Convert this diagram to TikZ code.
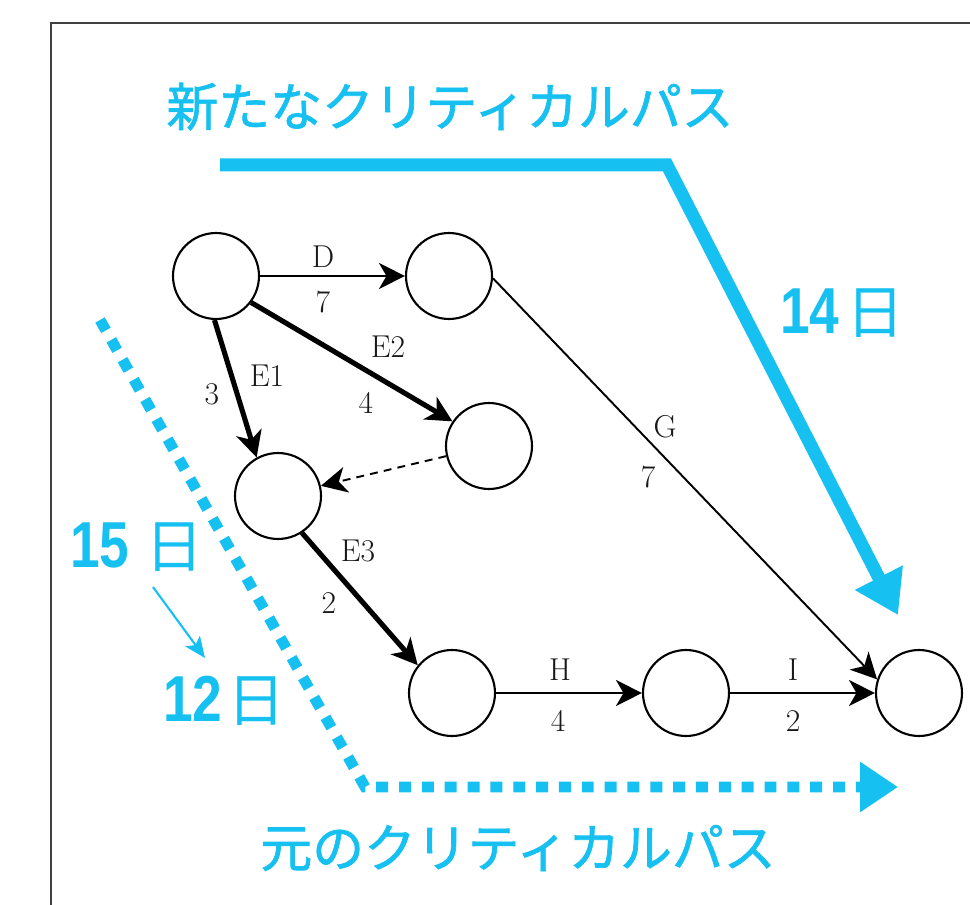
\documentclass[tikz,border=0pt]{standalone}
\usepackage{fontspec}
\usepackage{graphicx}
\newfontfamily\cjk[FakeBold=1.3]{Noto Sans CJK JP}
\newfontfamily\cjkday{Noto Sans CJK JP}
\newfontfamily\numf{Liberation Sans}
\usetikzlibrary{arrows.meta}
\definecolor{cy}{RGB}{22,192,240}
\newcommand{\bignum}[1]{\scalebox{0.82}[1]{\numf\bfseries\fontsize{37}{37}\selectfont #1}}
\newcommand{\bigday}{{\cjkday\fontsize{33}{33}\selectfont 日}}
\begin{document}
\begin{tikzpicture}[x=0.02cm,y=-0.02cm,
  ev/.style={circle,draw,line width=1.2pt,minimum size=1.72cm,inner sep=0pt},
  tipk/.style={-{Stealth[length=0.52cm,width=0.52cm,inset=0.15cm]}},
  act/.style={tipk,line width=1.1pt},
  crit/.style={tipk,line width=2.9pt},
  dum/.style={tipk,line width=1.1pt,dash pattern=on 4.5pt off 3.5pt},
  lab/.style={font=\fontsize{18}{19}\selectfont,inner sep=0pt,text=black!90},
  cjklab/.style={text=cy,inner sep=0pt,font=\cjk\fontsize{29.5}{30}\selectfont},
  daylab/.style={text=cy,inner sep=0pt,anchor=base west}]
\useasboundingbox (0,0) rectangle (970,905);
% frame
\draw[line width=1.7pt,black!75] (975,23) -- (51,23) -- (51,910);

% events
\node[ev] (A) at (216,276) {};
\node[ev] (B) at (449,276) {};
\node[ev] (C) at (489,446) {};
\node[ev] (D) at (278,496) {};
\node[ev] (E) at (452,693) {};
\node[ev] (F) at (686,693) {};
\node[ev] (G) at (919,693) {};

% activities
\draw[act] (A) -- (B);
\draw[crit] (A.-37) -- (C.146);
\draw[crit] (A.268) -- (D.119);
\draw[dum] (C) -- (D);
\draw[crit] (D.-57) -- (E.141);
\draw[act] (B.-3) -- (G.162);
\draw[act] (E) -- (F);
\draw[act] (F) -- (G);

% labels
\node[lab] (lD) at (323,257) {D};
\node[lab] (l7a) at (323,302) {7};
\node[lab] (lE2) at (388,347) {E2};
\node[lab] (l4a) at (366,403) {4};
\node[lab] (lE1) at (267,376) {E1};
\node[lab] (l3) at (212,394) {3};
\node[lab] (lE3) at (358,551) {E3};
\node[lab] (l2a) at (329,603) {2};
\node[lab] (lG) at (665,427) {G};
\node[lab] (l7b) at (648,477) {7};
\node[lab] (lH) at (560,670) {H};
\node[lab] (l4b) at (558,721) {4};
\node[lab] (lI) at (793,670) {I};
\node[lab] (l2b) at (793,721) {2};

% new critical path
\coordinate (n1) at (220,165);
\coordinate (n2) at (667,165);
\coordinate (n3) at (898,615);
\draw[cy,line width=7.4pt,-{Triangle[length=0.84cm,width=1.02cm]}] (n1) -- (n2) -- (n3);
\node[cjklab,anchor=base] (tnew) at (450,126) {新たなクリティカルパス};
\node[daylab] (d14) at (780,334) {\bignum{14}\hspace{4pt}\bigday};

% old critical path
\coordinate (o1) at (100,320);
\coordinate (o2) at (365,787);
\coordinate (o3) at (898,787);
\draw[cy,line width=6.2pt,dash pattern=on 6.8pt off 6.2pt,-{Triangle[length=0.76cm,width=0.96cm]}] (o1) -- (o2) -- (o3);
\node[cjklab,anchor=base] (told) at (518,867) {元のクリティカルパス};

% 15 -> 12 days
\node[daylab] (d15) at (70,567) {\bignum{15}\hspace{9pt}\bigday};
\node[daylab] (d12) at (163,721) {\bignum{12}\hspace{3pt}\bigday};
\coordinate (s1) at (153,587);
\coordinate (s2) at (205,658);
\draw[cy,line width=1.2pt,-{Stealth[length=0.42cm,width=0.36cm,inset=0.1cm]}] (s1) -- (s2);
\end{tikzpicture}
\end{document}
